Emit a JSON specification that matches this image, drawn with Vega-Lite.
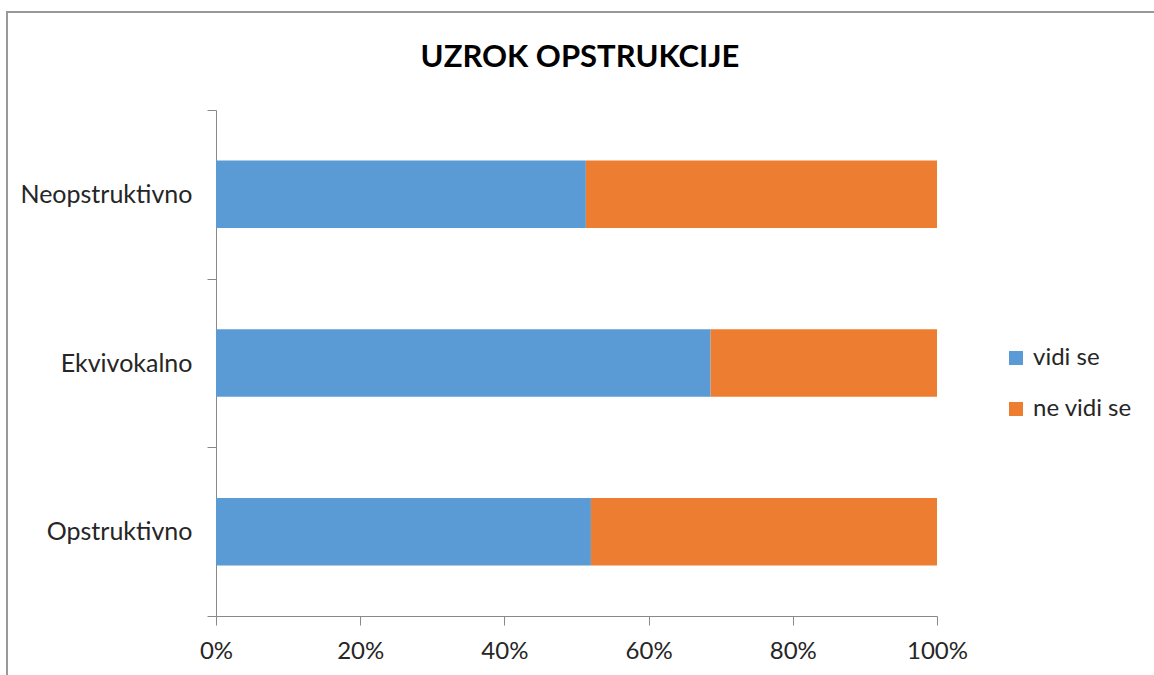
{
  "$schema": "https://vega.github.io/schema/vega-lite/v6.json",
  "width": 1160,
  "height": 700,
  "autosize": "none",
  "padding": {"left": 7, "top": 12, "right": 0, "bottom": 0},
  "background": "white",
  "title": {
    "text": "UZROK OPSTRUKCIJE",
    "font": "Lato",
    "fontSize": 31,
    "fontWeight": "bold",
    "color": "#000000",
    "anchor": "middle",
    "dx": -7,
    "offset": -98,
    "baseline": "alphabetic"
  },
  "data": {
    "values": [
      {"category": "Neopstruktivno", "status": "vidi se", "value": 51.3},
      {"category": "Neopstruktivno", "status": "ne vidi se", "value": 48.7},
      {"category": "Ekvivokalno", "status": "vidi se", "value": 68.6},
      {"category": "Ekvivokalno", "status": "ne vidi se", "value": 31.4},
      {"category": "Opstruktivno", "status": "vidi se", "value": 52.0},
      {"category": "Opstruktivno", "status": "ne vidi se", "value": 48.0}
    ]
  },
  "mark": {"type": "bar"},
  "encoding": {
    "y": {
      "field": "category",
      "type": "nominal",
      "sort": ["Neopstruktivno", "Ekvivokalno", "Opstruktivno"],
      "title": null,
      "scale": {"range": [98, 604], "paddingInner": 0.6, "paddingOuter": 0.3},
      "axis": {
        "offset": -209,
        "bandPosition": 2.5,
        "tickExtra": true,
        "tickOffset": -50.6,
        "labelOffset": 50.6,
        "tickSize": 9,
        "domainColor": "#898989",
        "tickColor": "#898989",
        "labelFont": "Lato",
        "labelFontSize": 25,
        "labelColor": "#262626",
        "labelPadding": 15
      }
    },
    "x": {
      "field": "value",
      "type": "quantitative",
      "stack": "normalize",
      "title": null,
      "scale": {"domain": [0, 1], "range": [209, 930]},
      "axis": {
        "values": [0, 0.2, 0.4, 0.6, 0.8, 1],
        "format": ".0%",
        "offset": -96,
        "grid": false,
        "tickSize": 9,
        "domainColor": "#898989",
        "tickColor": "#898989",
        "labelFont": "Lato",
        "labelFontSize": 24,
        "labelColor": "#262626",
        "labelPadding": 14,
        "labelFlush": false
      }
    },
    "color": {
      "field": "status",
      "type": "nominal",
      "scale": {"domain": ["vidi se", "ne vidi se"], "range": ["#5B9BD5", "#ED7D31"]},
      "legend": {
        "title": null,
        "orient": "none",
        "legendX": 997,
        "legendY": 334,
        "symbolType": "square",
        "symbolSize": 196,
        "symbolStrokeWidth": 0,
        "labelFont": "Lato",
        "labelFontSize": 24,
        "labelColor": "#262626",
        "rowPadding": 27,
        "labelOffset": 5
      }
    },
    "order": {"field": "status", "sort": "descending"}
  },
  "config": {
    "view": {"stroke": "#999999", "strokeWidth": 2}
  }
}
